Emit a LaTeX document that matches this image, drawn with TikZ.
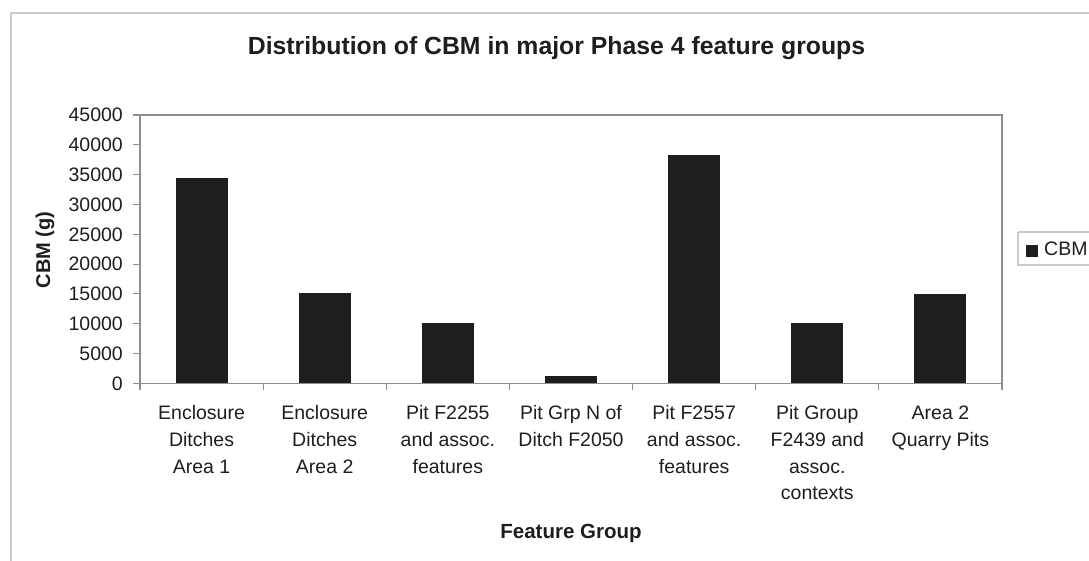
\documentclass[tikz,border=0pt]{standalone}
\usepackage{fontspec}
\setmainfont{Liberation Sans}
\definecolor{txt}{HTML}{1E1E1E}
\definecolor{barc}{HTML}{1E1E1E}
\definecolor{outerc}{HTML}{CACACA}
\definecolor{plotc}{HTML}{8E8E8E}
\begin{document}
\begin{tikzpicture}[x=1pt,y=-1pt,
  ticklabel/.style={anchor=base east,inner sep=0pt,text=txt,font=\fontsize{19.5}{23}\selectfont},
  catlabel/.style={anchor=north,inner sep=0pt,align=center,text=txt,font=\fontsize{19.5}{26.7}\selectfont},
  axtitle/.style={inner sep=0pt,text=txt,font=\fontsize{20.5}{24}\selectfont\bfseries},
  bar/.style={fill=barc,draw=none},
  axisline/.style={draw=plotc,line width=1.3pt},
  tickline/.style={draw=plotc,line width=1.1pt}]
\useasboundingbox (0,0) rectangle (1089,561);
\clip (0,0) rectangle (1089,561);
\fill[white] (0,0) rectangle (1089,561);
% outer chart frame
\draw[outerc,line width=1.6pt] (11,570) -- (11,13) -- (1100,13);
% title
\node[axtitle,font=\fontsize{24.8}{28}\selectfont\bfseries,anchor=base] (title) at (556.5,55) {Distribution of CBM in major Phase 4 feature groups};
% plot area
\coordinate (pa) at (140,115);
\coordinate (pb) at (1002,383.3);
\draw[axisline] (pa) rectangle (pb);
% y ticks and labels
\foreach \k/\v in {0/0,1/5000,2/10000,3/15000,4/20000,5/25000,6/30000,7/35000,8/40000,9/45000}{
  \pgfmathsetmacro{\yy}{383.3-\k*29.81}
  \draw[tickline] (133,\yy) -- (140,\yy);
  \node[ticklabel] (yl\k) at (123,\yy+6.9) {\v};
}
% x ticks
\foreach \i in {0,...,7}{
  \pgfmathsetmacro{\xx}{140+\i*123.14}
  \draw[tickline] (\xx,383.3) -- (\xx,390);
}
% bars and category labels
\foreach \i/\v/\lab in {1/34.5/{Enclosure\\Ditches\\Area 1},
                      2/15.1/{Enclosure\\Ditches\\Area 2},
                      3/10.1/{Pit F2255\\and assoc.\\features},
                      4/1.2/{Pit Grp N of\\Ditch F2050},
                      5/38.3/{Pit F2557\\and assoc.\\features},
                      6/10.1/{Pit Group\\F2439 and\\assoc.\\contexts},
                      7/15.0/{Area 2\\Quarry Pits}}{
  \pgfmathsetmacro{\cx}{140+(\i-0.5)*123.14}
  \pgfmathsetmacro{\ty}{383.3-\v*268.3/45}
  \fill[bar] (\cx-26,\ty) rectangle (\cx+26,383.3);
  \node[catlabel] (cl\i) at (\cx,405.5) {\lab};
}
% axis titles
\node[axtitle,anchor=base] (xtitle) at (571,538) {Feature Group};
\node[axtitle,font=\fontsize{20}{24}\selectfont\bfseries,rotate=90] (ytitle) at (45,250) {CBM (g)};
% legend
\draw[outerc,line width=1.2pt] (1018,232) -- (1100,232) (1018,232) -- (1018,265) -- (1100,265);
\fill[barc] (1026,245) rectangle (1038,257);
\node[anchor=base west,inner sep=0pt,text=txt,font=\fontsize{19.5}{23}\selectfont] (leg) at (1044,255) {CBM};
\end{tikzpicture}
\end{document}
